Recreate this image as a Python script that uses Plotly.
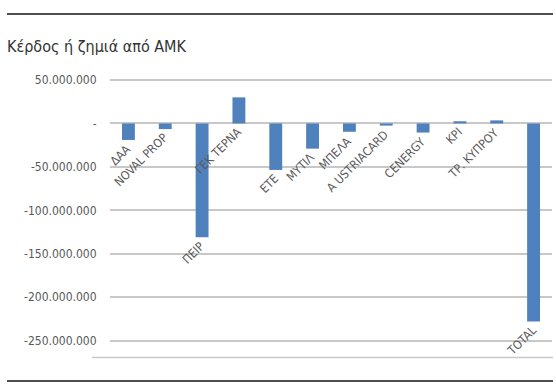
import plotly.graph_objects as go

# ---- data ----
categories = ["ΔΑΑ", "NOVAL PROP", "ΠΕΙΡ", "ΓΕΚ ΤΕΡΝΑ", "ΕΤΕ", "ΜΥΤΙΛ", "ΜΠΕΛΑ",
              "A USTRIACARD", "CENERGY", "KPI", "ΤΡ. ΚΥΠΡΟΥ", "TOTAL"]
values = [-19_000_000, -6_500_000, -131_000_000, 30_000_000, -53_500_000, -29_000_000,
          -9_600_000, -2_500_000, -10_500_000, 2_500_000, 3_500_000, -228_000_000]
tick_values = [50_000_000, 0, -50_000_000, -100_000_000, -150_000_000, -200_000_000, -250_000_000]
tick_labels = ["50.000.000", "-", "-50.000.000", "-100.000.000", "-150.000.000",
               "-200.000.000", "-250.000.000"]
title_text = "Κέρδος ή ζημιά από ΑΜΚ"

FONT = "Liberation Sans Narrow, DejaVu Sans Condensed, Roboto Condensed, Arial Narrow, Liberation Sans, sans-serif"
TXT = "#595959"
W, H = 556, 385
ML, MR, MT, MB = 110, 4, 76, 28
pw, ph = W - ML - MR, H - MT - MB

def px_x(p):
    return (p - ML) / pw

def px_y(p):
    return (H - MB - p) / ph

fig = go.Figure(go.Bar(
    x=categories, y=values, marker_color="#4f81bd", marker_line_width=0,
    width=0.35,
))

annotations = []
for c, v in zip(categories, values):
    annotations.append(dict(
        x=c, y=min(v, 0), xref="x", yref="y", text=c, showarrow=False,
        textangle=-45, xanchor="right", yanchor="top", xshift=8, yshift=1,
        font=dict(family=FONT, size=12, color=TXT),
    ))

shapes = [
    dict(type="line", xref="paper", yref="paper", x0=px_x(7), x1=px_x(553),
         y0=px_y(14), y1=px_y(14), line=dict(color="#4d4d4d", width=2)),
    dict(type="line", xref="paper", yref="paper", x0=px_x(7), x1=px_x(553),
         y0=px_y(381), y1=px_y(381), line=dict(color="#4d4d4d", width=2)),
    dict(type="line", xref="paper", yref="paper", x0=px_x(92), x1=px_x(553),
         y0=px_y(357.5), y1=px_y(357.5), line=dict(color="#c8c8c8", width=1.5)),
]

fig.update_layout(
    width=W, height=H,
    margin=dict(l=ML, r=MR, t=MT, b=MB),
    paper_bgcolor="white", plot_bgcolor="white",
    showlegend=False,
    bargap=0.65,
    title=dict(text=title_text, x=7 / W, xanchor="left", xref="container",
               y=1 - 46 / H, yanchor="middle", yref="container",
               font=dict(family=FONT, size=16, color="#333333")),
    xaxis=dict(showticklabels=False, showgrid=False, zeroline=False, showline=False,
               range=[-0.5, len(categories) - 0.5]),
    yaxis=dict(range=[-268.8e6, 54.6e6], tickvals=tick_values, ticktext=tick_labels,
               showgrid=True, gridcolor="#c8c8c8", gridwidth=1.5,
               zeroline=True, zerolinecolor="#c8c8c8", zerolinewidth=1.5,
               showline=False, ticks="outside", ticklen=10, tickcolor="rgba(0,0,0,0)",
               tickfont=dict(family=FONT, size=12, color=TXT)),
    annotations=annotations,
    shapes=shapes,
)

fig.write_html("out.html")
